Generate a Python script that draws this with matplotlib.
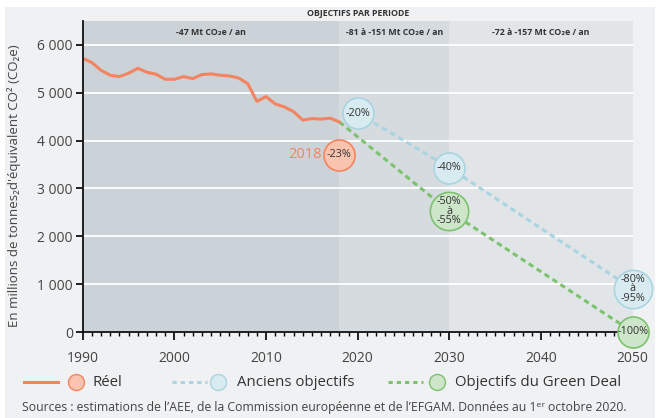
import matplotlib.pyplot as plt
from matplotlib.lines import Line2D
from matplotlib.patches import Rectangle

plt.rcParams['font.family'] = ['Open Sans', 'DejaVu Sans']

# --- data ---
years = list(range(1990, 2019))
reel = [5721, 5631, 5470, 5366, 5338, 5408, 5512, 5429, 5387, 5282,
        5282, 5338, 5296, 5380, 5394, 5366, 5352, 5310, 5192, 4822,
        4920, 4767, 4704, 4606, 4430, 4460, 4450, 4470, 4390]

anciens_years = [2020, 2030, 2050]
anciens_vals = [4577, 3433, 900]
anciens_labels = ['-20%', '-40%', '-80%\nà\n-95%']

green_years = [2018, 2030, 2050]
green_vals = [4390, 2520, 0]
green_label_years = [2030, 2050]
green_label_vals = [2520, 0]
green_labels = ['-50%\nà\n-55%', '-100%']

reel_label_year = 2018
reel_label_val = 3700
reel_label = '-23%'

periods = [(1990, 2018), (2018, 2030), (2030, 2050)]
period_labels = ['-47 Mt CO₂e / an', '-81 à -151 Mt CO₂e / an', '-72 à -157 Mt CO₂e / an']
period_colors = ['#cbd2d8', '#d5dbdf', '#e2e5e8']

yticks = [0, 1000, 2000, 3000, 4000, 5000, 6000]
ytick_labels = ['0', '1 000', '2 000', '3 000', '4 000', '5 000', '6 000']
xticks = [1990, 2000, 2010, 2020, 2030, 2040, 2050]

legend_labels = ['Réel', 'Anciens objectifs', 'Objectifs du Green Deal']

orange = '#f4845f'
orange_fill = '#f9c3ae'
blue = '#a9d4e0'
blue_fill = '#d8ebf1'
green = '#7dc26f'
green_fill = '#cde5c9'
txt = '#333333'

fig = plt.figure(figsize=(6.6, 4.18), dpi=100, facecolor='white')
fig.add_artist(Rectangle((5 / 660, 0), 650 / 660, 411 / 418, transform=fig.transFigure,
                         facecolor='#f0f1f3', edgecolor='none', zorder=-10))
ax = fig.add_axes([82.7 / 660, 1 - 332 / 418, 550 / 660, 311 / 418])
ax.set_facecolor('none')
ax.set_xlim(1990, 2050)
ax.set_ylim(0, 6500)

for (x0, x1), lab, c in zip(periods, period_labels, period_colors):
    ax.axvspan(x0, x1, color=c, lw=0, zorder=0)
    ax.text((x0 + x1) / 2, 6260, lab, ha='center', va='center', fontsize=6.3,
            fontweight='bold', color=txt)

for y in yticks[1:]:
    ax.axhline(y, color='white', lw=1.3, zorder=1)

ax.plot(years, reel, color=orange, lw=2.2, zorder=3, solid_capstyle='round')
ax.plot(anciens_years, anciens_vals, color=blue, lw=2.2, dashes=(1.8, 1.3), zorder=2)
ax.plot(green_years, green_vals, color=green, lw=2.2, dashes=(1.8, 1.3), zorder=2)


def bubble(x, y, label, fill, edge):
    big = '\n' in label
    ax.scatter([x], [y], s=760 if big else 500, color=fill, edgecolor=edge,
               linewidth=1.2, zorder=5, clip_on=False)
    ax.text(x, y, label, ha='center', va='center', fontsize=7.8, color=txt,
            linespacing=0.82, zorder=6)


for x, y, lab in zip(anciens_years, anciens_vals, anciens_labels):
    bubble(x, y, lab, blue_fill, blue)
for x, y, lab in zip(green_label_years, green_label_vals, green_labels):
    bubble(x, y, lab, green_fill, green)
bubble(reel_label_year, reel_label_val, reel_label, orange_fill, orange)
ax.text(reel_label_year - 1.9, reel_label_val, str(reel_label_year), ha='right', va='center',
        fontsize=10.5, color=orange)

ax.set_yticks(yticks)
ax.set_yticklabels(ytick_labels)
ax.set_xticks(xticks)
ax.set_xticks(range(1990, 2051), minor=True)
ax.tick_params(axis='both', labelsize=10, colors='#111111', labelcolor='#444444')
ax.tick_params(axis='x', which='major', length=6, width=1.3, pad=8)
ax.tick_params(axis='x', which='minor', length=3, width=1)
ax.tick_params(axis='y', length=5, width=1.3, pad=2)
for s in ['top', 'right']:
    ax.spines[s].set_visible(False)
for s in ['left', 'bottom']:
    ax.spines[s].set_linewidth(1.3)
    ax.spines[s].set_color('#111111')
    ax.spines[s].set_zorder(4)
ax.set_ylabel("En millions de tonnes₂d'équivalent CO² (CO₂e)", fontsize=9.5, color='#444444')
ax.yaxis.set_label_coords(-0.112, 0.47)

fig.text(358 / 660, 1 - 13 / 418, 'OBJECTIFS PAR PERIODE', ha='center', va='center',
         fontsize=6.3, fontweight='bold', color=txt)

# legend drawn in pixel coordinates of the figure
ly = 418 - 382
keys = [
    (orange, orange_fill, 'solid', (24, 58), 76, 92),
    (blue, blue_fill, (0, (1.4, 1.3)), (172, 207), 218, 237),
    (green, green_fill, (0, (1.4, 1.3)), (388, 423), 437, 455),
]
for (edge, fill, ls, (x0, x1), cx, tx), lab in zip(keys, legend_labels):
    fig.add_artist(Line2D([x0, x1], [ly, ly], transform=None, color=edge, lw=2.2, ls=ls))
    fig.add_artist(Line2D([cx], [ly], transform=None, ls='none', marker='o', ms=11.5,
                          mfc=fill, mec=edge, mew=1))
    fig.text(tx / 660, ly / 418, lab, ha='left', va='center', fontsize=10.8, color='#333333')

fig.text(22 / 660, 1 - 408 / 418,
         "Sources : estimations de l’AEE, de la Commission européenne et de l’EFGAM. Données au 1ᵉʳ octobre 2020.",
         ha='left', va='center', fontsize=8.8, color='#444444')

fig.savefig('out.png', dpi=100, facecolor=fig.get_facecolor())
